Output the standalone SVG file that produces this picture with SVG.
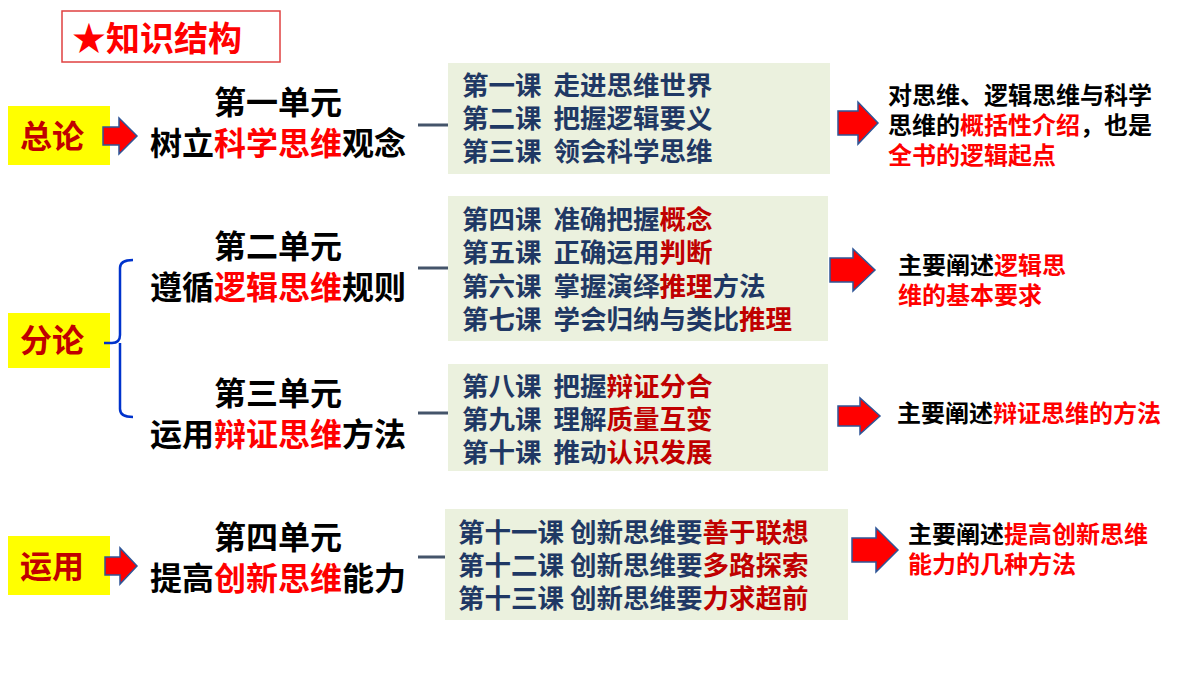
<svg xmlns="http://www.w3.org/2000/svg" width="1200" height="674" viewBox="0 0 1200 674">
<defs>
<style>
text{font-family:"Noto Sans CJK SC","Liberation Sans",sans-serif;font-weight:bold}
.u{font-size:32px;fill:#000;text-anchor:middle}
.l{font-size:26.5px;fill:#1f3864}
.d{font-size:24px;fill:#000}
.r{fill:#ff0000}
.dr{fill:#c00000}
.box{fill:#ebf1de}
.yl{fill:#ffff00}
.yt{font-size:32px;fill:#c00000;text-anchor:middle}
.ar{fill:#ff0000;stroke:#2f5597;stroke-width:1.5}
.cn{stroke:#44546a;stroke-width:3;fill:none}
</style>
</defs>
<rect width="1200" height="674" fill="#fff"/>
<g id="title"><rect x="62" y="11" width="218" height="51" fill="#fff" stroke="#e04040" stroke-width="1.5"/><text x="72" y="51" font-size="34" class="r">★知识结构</text></g>
<g id="zonglun"><rect class="yl" x="8" y="106" width="102" height="59"/><text class="yt" x="52" y="148">总论</text></g>
<g id="fenlun"><rect class="yl" x="8" y="313" width="102" height="55"/><text class="yt" x="52" y="352">分论</text></g>
<g id="yunyong"><rect class="yl" x="8" y="536" width="102" height="59"/><text class="yt" x="52" y="578">运用</text></g>
<g id="connectors">
<path class="ar" d="M103,127 H119 V118 L137,136 L119,154 V145 H103 Z"/>
<path class="ar" d="M105,557 H120 V548 L137,566 L120,584 V575 H105 Z"/>
<path d="M104,343 H112 Q120,343 120,335 V268 Q120,260 133,260 M120,343 V409 Q120,417 133,417" stroke="#0033cc" stroke-width="2.5" fill="none"/>
<path class="cn" d="M418,125 H448 M418,268 H448 M418,413 H448 M418,557 H445"/>
<path class="ar" d="M838,111 H858 V102 L878,123 L858,144 V135 H838 Z"/>
<path class="ar" d="M830,258 H853 V249 L875,270 L853,291 V282 H830 Z"/>
<path class="ar" d="M838,406 H860 V398 L880,416 L860,434 V426 H838 Z"/>
<path class="ar" d="M852,538 H876 V528 L898,550 L876,572 V562 H852 Z"/>
</g>
<g id="unit1"><text class="u" x="278" y="114">第一单元</text><text class="u" x="278" y="155">树立<tspan class="r">科学思维</tspan>观念</text></g>
<g id="unit2"><text class="u" x="278" y="258">第二单元</text><text class="u" x="278" y="299">遵循<tspan class="r">逻辑思维</tspan>规则</text></g>
<g id="unit3"><text class="u" x="278" y="405">第三单元</text><text class="u" x="278" y="446">运用<tspan class="r">辩证思维</tspan>方法</text></g>
<g id="unit4"><text class="u" x="278" y="549">第四单元</text><text class="u" x="278" y="590">提高<tspan class="r">创新思维</tspan>能力</text></g>
<g id="lessons1"><rect class="box" x="448" y="63" width="382" height="111"/>
<text class="l" x="462" y="95">第一课&#160;&#160;走进思维世界</text><text class="l" x="462" y="128">第二课&#160;&#160;把握逻辑要义</text><text class="l" x="462" y="161">第三课&#160;&#160;领会科学思维</text></g>
<g id="lessons2"><rect class="box" x="448" y="196" width="380" height="145"/>
<text class="l" x="462" y="229">第四课&#160;&#160;准确把握<tspan class="dr">概念</tspan></text><text class="l" x="462" y="262">第五课&#160;&#160;正确运用<tspan class="dr">判断</tspan></text><text class="l" x="462" y="296">第六课&#160;&#160;掌握演绎<tspan class="dr">推理</tspan>方法</text><text class="l" x="462" y="329">第七课&#160;&#160;学会归纳与类比<tspan class="dr">推理</tspan></text></g>
<g id="lessons3"><rect class="box" x="448" y="364" width="380" height="107"/>
<text class="l" x="462" y="396">第八课&#160;&#160;把握<tspan class="dr">辩证分合</tspan></text><text class="l" x="462" y="429">第九课&#160;&#160;理解<tspan class="dr">质量互变</tspan></text><text class="l" x="462" y="462">第十课&#160;&#160;推动<tspan class="dr">认识发展</tspan></text></g>
<g id="lessons4"><rect class="box" x="445" y="509" width="403" height="111"/>
<text class="l" x="458" y="542">第十一课&#160;创新思维要<tspan class="dr">善于联想</tspan></text><text class="l" x="458" y="575">第十二课&#160;创新思维要<tspan class="dr">多路探索</tspan></text><text class="l" x="458" y="608">第十三课&#160;创新思维要<tspan class="dr">力求超前</tspan></text></g>
<g id="desc1"><text class="d" x="888" y="104">对思维、逻辑思维与科学</text><text class="d" x="888" y="134">思维的<tspan class="r">概括性介绍</tspan>，也是</text><text class="d r" x="888" y="164">全书的逻辑起点</text></g>
<g id="desc2"><text class="d" x="898" y="274">主要阐述<tspan class="r">逻辑思</tspan></text><text class="d r" x="898" y="304">维的基本要求</text></g>
<g id="desc3"><text class="d" x="897" y="422">主要阐述<tspan class="r">辩证思维的方法</tspan></text></g>
<g id="desc4"><text class="d" x="908" y="543">主要阐述<tspan class="r">提高创新思维</tspan></text><text class="d r" x="908" y="573">能力的几种方法</text></g>
</svg>
